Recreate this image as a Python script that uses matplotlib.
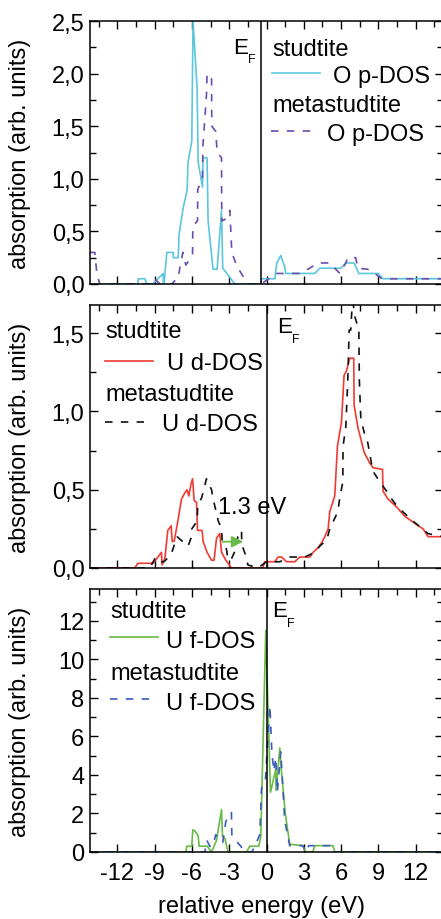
import matplotlib
matplotlib.use('Agg')
import matplotlib.pyplot as plt
from matplotlib.ticker import MultipleLocator, FuncFormatter

plt.rcParams['font.family'] = ['Liberation Sans', 'DejaVu Sans']

# ---------------- data ----------------
# panel 1: O p-DOS
op_stud_x = [-14.2, -10.35, -10.31, -9.79, -9.63, -9.15, -8.32, -8.28, -8.02, -7.51, -7.50, -7.11,
             -7.03, -6.71, -6.39, -6.31, -6.01, -5.91, -5.58, -5.50, -5.15, -5.10, -4.78, -4.70,
             -4.30, -3.97, -3.62, -3.52, -2.55, -0.46, -0.42, 0.67, 0.83, 1.15, 1.47, 1.55,
             3.89, 4.29, 5.98, 6.36, 7.05, 7.43, 8.98, 9.38, 14.2]
op_stud_y = [0, 0, 0.05, 0.05, 0, 0, 0.1, -0.05, 0.3, 0.3, 0.25, 0.25,
             0.47, 0.72, 0.89, 1.16, 1.36, 2.5, 1.85, 1.16, 0.92, 1.2, 1.2, 0.6,
             0.14, 0.14, 0.7, 0.15, 0, 0, 0.05, 0.05, 0.2, 0.27, 0.16, 0.1,
             0.1, 0.15, 0.15, 0.2, 0.2, 0.1, 0.1, 0.05, 0.05]
op_meta_x = [-14.2, -13.81, -13.65, -13.41, -9.39, -8.99, -8.58, -7.62, -7.30, -7.11, -6.98, -6.73,
             -6.49, -5.95, -5.93, -5.55, -5.53, -5.15, -5.12, -4.83, -4.78, -4.42, -4.40, -4.08,
             -3.97, -3.62, -3.60, -3.22, -2.95, -2.87, -2.79, -2.39, -1.61, -1.50, -0.46, -0.06,
             0.83, 2.68, 3.48, 4.13, 5.09, 5.90, 6.38, 6.54, 7.18, 7.35, 8.15, 8.71, 9.28, 14.2]
op_meta_y = [0.3, 0.3, 0.1, 0, 0, 0.05, 0, 0, 0.04, 0.05, 0.15, 0.3,
             0.18, 0.27, 0.55, 0.6, 0.9, 1.0, 1.3, 1.8, 2.0, 1.95, 1.5, 1.45,
             1.25, 1.2, 0.6, 0.62, 0.7, 0.5, 0.3, 0.17, 0.02, 0, 0, 0.03,
             0.1, 0.1, 0.15, 0.2, 0.2, 0.1, 0.2, 0.25, 0.25, 0.15, 0.14, 0.1, 0.05, 0.05]

# panel 2: U d-DOS
ud_stud_x = [-14.2, -10.60, -10.35, -9.12, -8.45, -8.40, -8.18, -7.94, -7.67, -7.59, -7.43, -7.11,
             -6.84, -6.57, -6.39, -6.25, -6.09, -5.95, -5.82, -5.63, -5.55, -5.18, -5.10, -4.78,
             -4.42, -4.22, -4.02, -3.76, -3.62, -3.27, -2.82, -0.30, -0.14, 0.67, 0.93, 1.21,
             1.61, 2.28, 2.68, 3.48, 3.75, 4.15, 4.42, 4.69, 4.96, 5.09, 5.49, 5.71,
             6.03, 6.24, 6.44, 6.70, 7.02, 7.05, 7.37, 7.51, 7.85, 8.31, 8.58, 9.33,
             9.38, 9.78, 10.06, 10.46, 11.13, 11.67, 12.20, 12.60, 13.00, 14.2]
ud_stud_y = [0, 0, 0.03, 0.03, 0.1, 0.02, 0.06, 0.24, 0.27, 0.17, 0.17, 0.31,
             0.44, 0.48, 0.5, 0.46, 0.53, 0.57, 0.43, 0.42, 0.24, 0.24, 0.17, 0.1,
             0.05, 0.05, 0.19, 0.22, 0.1, 0.05, 0, 0, 0.04, 0.04, 0.07, 0.07,
             0.04, 0.04, 0.07, 0.07, 0.1, 0.13, 0.16, 0.2, 0.25, 0.36, 0.46, 0.78,
             0.93, 1.23, 1.26, 1.34, 1.34, 1.04, 0.89, 0.85, 0.74, 0.67, 0.64, 0.63,
             0.49, 0.44, 0.42, 0.39, 0.33, 0.3, 0.27, 0.25, 0.2, 0.2]
ud_meta_x = [-14.2, -10.60, -9.39, -8.91, -8.45, -8.26, -7.86, -7.62, -7.19, -6.76, -6.31, -6.03,
             -6.01, -5.58, -5.53, -5.21, -4.83, -4.42, -4.32, -4.02, -3.88, -3.62, -3.57, -3.22,
             -3.11, -2.87, -2.47, -2.31, -2.01, -1.99, -1.67, -1.50, -0.70, 0.0, 1.07, 1.87,
             3.08, 3.89, 4.29, 4.85, 5.09, 5.74, 5.90, 6.14, 6.16, 6.38, 6.54, 6.65,
             6.78, 6.94, 7.05, 7.43, 7.47, 7.59, 7.91, 8.15, 8.55, 9.12, 9.76, 10.08,
             10.56, 10.96, 11.77, 12.57, 12.98, 14.2]
ud_meta_y = [0, 0, 0, 0.07, 0.04, 0.04, 0.07, 0.1, 0.2, 0.17, 0.14, 0.2,
             0.25, 0.3, 0.4, 0.45, 0.57, 0.5, 0.45, 0.35, 0.3, 0.25, 0.18, 0.12,
             0.06, 0.05, 0.12, 0.2, 0.24, 0.15, 0.08, 0.02, 0, 0.04, 0.04, 0.07,
             0.07, 0.1, 0.14, 0.18, 0.25, 0.36, 0.45, 0.55, 0.78, 0.9, 1.2, 1.52,
             1.52, 1.75, 1.62, 1.52, 1.2, 0.95, 0.85, 0.8, 0.62, 0.55, 0.48, 0.44,
             0.39, 0.36, 0.3, 0.25, 0.22, 0.2]
gap_start, gap_end, gap_y = -3.54, -1.88, 0.168
gap_label = '1.3 eV'

# panel 3: U f-DOS
uf_stud_x = [-14.2, -6.49, -6.41, -6.01, -5.93, -5.77, -5.50, -5.42, -4.76, -4.42, -4.02, -3.62,
             -3.54, -3.35, -3.09, -1.61, -1.34, -0.62, -0.46, -0.06, 0.32, 0.75, 0.77, 1.07,
             1.15, 1.51, 1.87, 2.92, 3.16, 3.72, 3.89, 5.34, 5.49, 14.2]
uf_stud_y = [0, 0, 0.3, 0.3, 1.15, 1.1, 0.85, 0.3, 0.3, 0, 0.6, 2.2,
             0.8, 0.7, 0, 0, 0.3, 0.3, 0.8, 11.5, 3.1, 4.3, 3.2, 5.4,
             4.6, 2.0, 0.4, 0.33, 0, 0, 0.33, 0.33, 0, 0]
uf_meta_x = [-14.2, -4.96, -4.80, -4.56, -4.32, -4.08, -3.76, -3.52, -3.27, -2.82, -2.79, -2.47,
             -2.07, -1.75, -1.18, -0.94, -0.54, -0.40, -0.10, 0.27, 0.43, 0.59, 0.75, 0.87,
             1.15, 1.47, 1.87, 2.92, 3.16, 3.40, 5.34, 5.49, 14.2]
uf_meta_y = [0, 0, 0.6, 0.3, 0.3, 0.9, 0.6, 0.5, 1.6, 2.05, 0.9, 0.6,
             0.3, 0, 0, 0.3, 0.9, 3.3, 3.6, 7.6, 5.2, 4.2, 4.9, 3.1,
             5.2, 1.6, 0.33, 0.33, 0, 0.33, 0.33, 0, 0]

x_ticks = [-12, -9, -6, -3, 0, 3, 6, 9, 12]
ef_pos = [-0.45, 0.0, 0.0]

# ---------------- styles ----------------
C_CYAN = '#5cc6dc'
C_PURPLE = '#6a4caf'
C_RED = '#f03a32'
C_BLACK = '#111111'
C_GREEN = '#67bb46'
C_BLUE = '#3d5cbd'
FS = 17

W, H = 441, 920
fig = plt.figure(figsize=(W / 100, H / 100), dpi=100)
L_PX, R_PX = 90, 443
panels = [(22, 285), (306, 569), (590, 853)]


def make_ax(top, bot):
    return fig.add_axes([L_PX / W, 1 - bot / H, (R_PX - L_PX) / W, (bot - top) / H])


def comma(v, pos):
    return ('%.1f' % v).replace('.', ',')


def style(ax, ylim, ymaj, ymin, fmt, show_x):
    ax.set_xlim(-14.2, 14.2)
    ax.set_ylim(*ylim)
    ax.xaxis.set_major_locator(MultipleLocator(3))
    ax.xaxis.set_minor_locator(MultipleLocator(1.5))
    ax.yaxis.set_major_locator(MultipleLocator(ymaj))
    ax.yaxis.set_minor_locator(MultipleLocator(ymin))
    ax.yaxis.set_major_formatter(FuncFormatter(fmt))
    ax.tick_params(which='both', direction='in', top=True, right=True, width=1.0,
                   labelsize=FS, pad=4)
    ax.tick_params(which='major', length=5.5)
    ax.tick_params(which='minor', length=4.5, bottom=False)
    ax.tick_params(axis='x', pad=7)
    if show_x:
        ax.set_xticks(x_ticks)
        ax.set_xticklabels([str(t) for t in x_ticks])
        ax.set_xlabel('relative energy (eV)', fontsize=FS)
        ax.xaxis.set_label_coords(0.486, -0.165)
    else:
        ax.tick_params(axis='x', labelbottom=False)
    for s in ax.spines.values():
        s.set_linewidth(1.1)
    ax.set_ylabel('absorption (arb. units)', fontsize=FS)
    ax.yaxis.set_label_coords(-0.168, 0.5)


def legend(ax, top, bot, items):
    def fx(px):
        return (px - L_PX) / (R_PX - L_PX)

    def fy(py):
        return (bot - py) / (bot - top)
    for kind, a, b, c, d in items:
        if kind == 'text':
            ax.text(fx(a), fy(b), c, transform=ax.transAxes, fontsize=FS,
                    ha='left', va='center_baseline')
        else:
            col, ls = d
            ax.plot([fx(a), fx(b)], [fy(c), fy(c)], transform=ax.transAxes,
                    color=col, ls=ls, lw=1.2, clip_on=False)


def ef_label(ax, x, y):
    ax.annotate('E', xy=(x, y), fontsize=16, ha='left', va='baseline')
    ax.annotate('F', xy=(x, y), xytext=(10.8, -7), textcoords='offset points',
                fontsize=9, ha='left', va='baseline')


dash = (0, (4.5, 5))

# panel 1
ax1 = make_ax(*panels[0])
ax1.plot(op_stud_x, op_stud_y, color=C_CYAN, lw=1.2)
ax1.plot(op_meta_x, op_meta_y, color=C_PURPLE, lw=1.2, ls=dash)
ax1.axvline(ef_pos[0], color='black', lw=1.1)
style(ax1, (0, 2.5), 0.5, 0.25, comma, False)
ef_label(ax1, -2.71, 2.20)
t, b = panels[0]
legend(ax1, t, b, [('text', 272, 47, 'studtite', None),
                   ('line', 272, 320, 74, (C_CYAN, '-')),
                   ('text', 333, 74, 'O p-DOS', None),
                   ('text', 272, 104, 'metastudtite', None),
                   ('line', 271, 312, 132, (C_PURPLE, dash)),
                   ('text', 327, 132, 'O p-DOS', None)])

# panel 2
ax2 = make_ax(*panels[1])
ax2.plot(ud_stud_x, ud_stud_y, color=C_RED, lw=1.2)
ax2.plot(ud_meta_x, ud_meta_y, color=C_BLACK, lw=1.2, ls=dash)
ax2.axvline(ef_pos[1], color='black', lw=1.1)
ax2.annotate('', xy=(gap_end, gap_y), xytext=(gap_start, gap_y),
             arrowprops=dict(arrowstyle='-|>', color=C_GREEN, lw=1.3,
                             mutation_scale=17, shrinkA=0, shrinkB=0))
ax2.text(-3.92, 0.388, gap_label, fontsize=FS, ha='left', va='center')
style(ax2, (0, 1.68), 0.5, 0.25, comma, False)
ef_label(ax2, 0.83, 1.508)
t, b = panels[1]
legend(ax2, t, b, [('text', 105, 330, 'studtite', None),
                   ('line', 105, 153, 362, (C_RED, '-')),
                   ('text', 167, 362, 'U d-DOS', None),
                   ('text', 105, 393, 'metastudtite', None),
                   ('line', 105, 144, 423, (C_BLACK, dash)),
                   ('text', 162, 423, 'U d-DOS', None)])

# panel 3
ax3 = make_ax(*panels[2])
ax3.plot(uf_stud_x, uf_stud_y, color=C_GREEN, lw=1.2)
ax3.plot(uf_meta_x, uf_meta_y, color=C_BLUE, lw=1.2, ls=dash)
ax3.axvline(ef_pos[2], color='black', lw=1.1)
style(ax3, (0, 13.65), 2, 1, lambda v, p: '%d' % v, True)
ef_label(ax3, 0.43, 12.25)
t, b = panels[2]
legend(ax3, t, b, [('text', 110, 609, 'studtite', None),
                   ('line', 110, 158, 638, (C_GREEN, '-')),
                   ('text', 166, 639, 'U f-DOS', None),
                   ('text', 110, 671, 'metastudtite', None),
                   ('line', 110, 150, 700, (C_BLUE, dash)),
                   ('text', 166, 701, 'U f-DOS', None)])

fig.savefig('out.png', dpi=100)
